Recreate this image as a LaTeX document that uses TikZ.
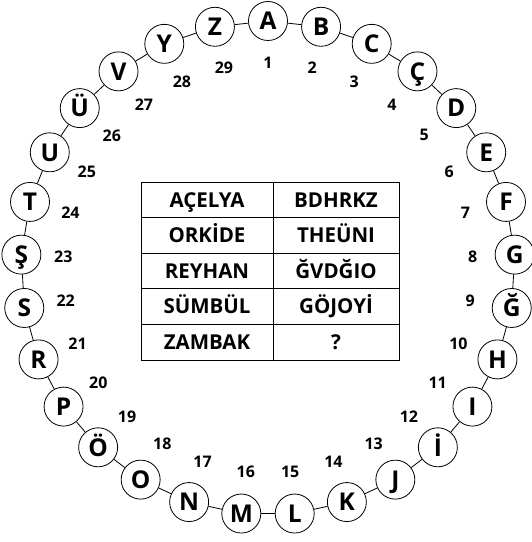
\documentclass[tikz,border=0pt]{standalone}
\usepackage{fontspec}
\setmainfont{Open Sans}
\usetikzlibrary{positioning}
\tikzstyle{letter} = [circle, draw=black, fill=white, minimum size=39pt, inner sep=0pt, line width=0.8pt, text height=17.5pt, text depth=0pt, font=\fontsize{24.5}{24.5}\selectfont\bfseries]
\tikzstyle{number} = [inner sep=0pt, font=\fontsize{16}{16}\selectfont\bfseries]
\tikzstyle{cell} = [rectangle, draw=black, minimum height=35.6pt, inner sep=0pt, outer sep=0pt, line width=0.9pt, text height=14.6pt, text depth=0pt, font=\fontsize{20.5}{20.5}\selectfont\bfseries]
\tikzstyle{link} = [line width=0.8pt]

\begin{document}
\begin{tikzpicture}[x=1pt, y=1pt]
\useasboundingbox (0,0) rectangle (532,542);

% ring of letters and their numbers
\begin{scope}[shift={(268,274)}]
\foreach \ch [count=\i, evaluate=\i as \a using 90-(\i-1)*360/29] in {A,B,C,Ç,D,E,F,G,Ğ,H,I,İ,J,K,L,M,N,O,Ö,P,R,S,Ş,T,U,Ü,V,Y,Z} {
  \node (c\i) [letter] at (\a:247) {\ch};
  \node (n\i) [number] at (\a:205) {\i};
}
\end{scope}
\foreach \i [remember=\i as \j (initially 29)] in {1,...,29}
  \draw [link] (c\j) -- (c\i);

% table
\node (f1) [cell, minimum width=132pt, anchor=north west] at (141,360) {AÇELYA};
\node (k1) [cell, minimum width=126pt, right=0pt of f1] {BDHRKZ};
\node (f2) [cell, minimum width=132pt, below=0pt of f1] {ORKİDE};
\node (k2) [cell, minimum width=126pt, right=0pt of f2] {THEÜNI};
\node (f3) [cell, minimum width=132pt, below=0pt of f2] {REYHAN};
\node (k3) [cell, minimum width=126pt, right=0pt of f3] {ĞVDĞIO};
\node (f4) [cell, minimum width=132pt, below=0pt of f3] {SÜMBÜL};
\node (k4) [cell, minimum width=126pt, right=0pt of f4] {GÖJOYİ};
\node (f5) [cell, minimum width=132pt, below=0pt of f4] {ZAMBAK};
\node (k5) [cell, minimum width=126pt, right=0pt of f5] {?};
\end{tikzpicture}
\end{document}
